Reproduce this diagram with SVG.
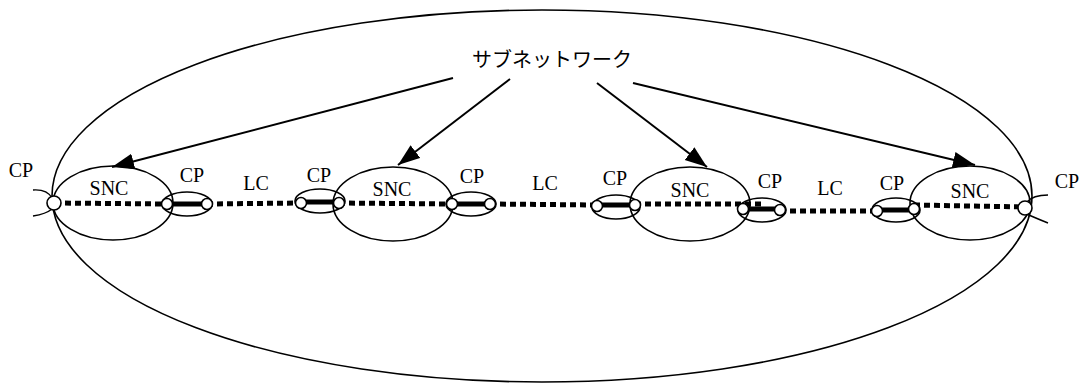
<svg xmlns="http://www.w3.org/2000/svg" width="1086" height="385" viewBox="0 0 1086 385">
  <style>
    .ring { fill: none; stroke: #000; stroke-width: 1.6; }
    .lc { fill: none; stroke: #000; stroke-width: 5; stroke-dasharray: 6 4; }
    .xc { fill: none; stroke: #000; stroke-width: 5; }
    .pt { fill: #fff; stroke: #000; stroke-width: 1.6; }
    .arr { fill: none; stroke: #000; stroke-width: 2; marker-end: url(#head); }
    .tip { fill: none; stroke: #000; stroke-width: 1.4; }
    .lbl { font-family: "Liberation Serif", "Times New Roman", serif; font-size: 20px; text-anchor: middle; fill: #000; }
    .jp { font-family: "Noto Sans CJK JP", "Noto Sans", sans-serif; font-size: 20px; text-anchor: middle; fill: #000; }
  </style>
  <defs>
    <marker id="head" markerUnits="userSpaceOnUse" markerWidth="24" markerHeight="18" refX="22" refY="8" orient="auto">
      <path d="M0,0 L22,8 L0,16 Z" fill="#000"/>
    </marker>
  </defs>

  <rect width="1086" height="385" fill="#fff"/>

  <!-- subnetwork boundary -->
  <g id="subnetwork">
    <ellipse class="ring" cx="542" cy="196" rx="490" ry="186"/>
    <text class="jp" x="552" y="67">サブネットワーク</text>
  </g>

  <!-- subnetwork connections -->
  <g id="snc1">
    <ellipse class="ring" cx="113" cy="203" rx="60" ry="37"/>
    <text class="lbl" x="109" y="195">SNC</text>
  </g>
  <g id="snc2">
    <ellipse class="ring" cx="393" cy="204" rx="60" ry="37"/>
    <text class="lbl" x="392" y="196">SNC</text>
  </g>
  <g id="snc3">
    <ellipse class="ring" cx="690" cy="204" rx="60" ry="37"/>
    <text class="lbl" x="690" y="197">SNC</text>
  </g>
  <g id="snc4">
    <ellipse class="ring" cx="970" cy="203" rx="60" ry="37"/>
    <text class="lbl" x="970" y="198">SNC</text>
  </g>

  <!-- link-end connection point pairs -->
  <g id="cp1">
    <ellipse class="ring" cx="187" cy="204" rx="25" ry="12"/>
    <text class="lbl" x="192" y="182">CP</text>
  </g>
  <g id="cp2">
    <ellipse class="ring" cx="320" cy="201" rx="25" ry="12"/>
    <text class="lbl" x="319" y="182">CP</text>
  </g>
  <g id="cp3">
    <ellipse class="ring" cx="471" cy="204" rx="25" ry="12"/>
    <text class="lbl" x="472" y="183">CP</text>
  </g>
  <g id="cp4">
    <ellipse class="ring" cx="616" cy="207" rx="24" ry="12"/>
    <text class="lbl" x="615" y="185">CP</text>
  </g>
  <g id="cp5">
    <ellipse class="ring" cx="762" cy="210" rx="24" ry="12"/>
    <text class="lbl" x="770" y="188">CP</text>
  </g>
  <g id="cp6">
    <ellipse class="ring" cx="896" cy="210" rx="24" ry="12"/>
    <text class="lbl" x="892" y="190">CP</text>
  </g>

  <!-- link connection labels -->
  <g id="lc1"><text class="lbl" x="256" y="190">LC</text></g>
  <g id="lc2"><text class="lbl" x="545" y="190">LC</text></g>
  <g id="lc3"><text class="lbl" x="830" y="195">LC</text></g>

  <!-- termination points on the boundary -->
  <g id="cp-left">
    <path class="tip" d="M33,190 Q47,189 52,198"/>
    <path class="tip" d="M33,216 Q46,214 52,209"/>
    <text class="lbl" x="21" y="177">CP</text>
  </g>
  <g id="cp-right">
    <path class="tip" d="M1048,195 Q1033,195 1027,202"/>
    <path class="tip" d="M1048,223 Q1033,217 1027,214"/>
    <text class="lbl" x="1067" y="188">CP</text>
  </g>

  <!-- connectors -->
  <g id="connectors">
    <!-- pointers from the subnetwork label -->
    <line class="arr" x1="453" y1="78" x2="112" y2="167"/>
    <line class="arr" x1="510" y1="79" x2="398" y2="165"/>
    <line class="arr" x1="597" y1="83" x2="707" y2="167"/>
    <line class="arr" x1="633" y1="83" x2="975" y2="165"/>

    <!-- dotted: connections across SNCs and links -->
    <line class="lc" x1="55" y1="203" x2="167" y2="204"/>
    <line class="lc" x1="207" y1="204" x2="301" y2="203"/>
    <line class="lc" x1="339" y1="203" x2="452" y2="204"/>
    <line class="lc" x1="490" y1="204" x2="597" y2="205"/>
    <line class="lc" x1="635" y1="204" x2="762" y2="204"/>
    <line class="lc" x1="780" y1="211" x2="877" y2="211"/>
    <line class="lc" x1="914" y1="205" x2="1025" y2="207"/>

    <!-- solid: bindings inside the CP pairs -->
    <line class="xc" x1="167" y1="204" x2="207" y2="204"/>
    <line class="xc" x1="301" y1="202" x2="339" y2="202"/>
    <line class="xc" x1="452" y1="204" x2="490" y2="204"/>
    <line class="xc" x1="597" y1="205" x2="635" y2="205"/>
    <line class="xc" x1="743" y1="209" x2="780" y2="209"/>
    <line class="xc" x1="877" y1="210" x2="914" y2="210"/>
  </g>

  <!-- connection point markers -->
  <g id="points">
    <circle class="pt" cx="54" cy="203" r="7"/>
    <circle class="pt" cx="167" cy="204" r="5.5"/>
    <circle class="pt" cx="207" cy="204" r="5.5"/>
    <circle class="pt" cx="301" cy="203" r="5.5"/>
    <circle class="pt" cx="339" cy="203" r="5.5"/>
    <circle class="pt" cx="452" cy="204" r="5.5"/>
    <circle class="pt" cx="490" cy="204" r="5.5"/>
    <circle class="pt" cx="597" cy="206" r="5.5"/>
    <circle class="pt" cx="635" cy="205" r="5.5"/>
    <circle class="pt" cx="743" cy="209" r="5.5"/>
    <circle class="pt" cx="780" cy="210" r="5.5"/>
    <circle class="pt" cx="877" cy="211" r="5.5"/>
    <circle class="pt" cx="914" cy="209" r="5.5"/>
    <circle class="pt" cx="1025" cy="208" r="7"/>
  </g>
</svg>
